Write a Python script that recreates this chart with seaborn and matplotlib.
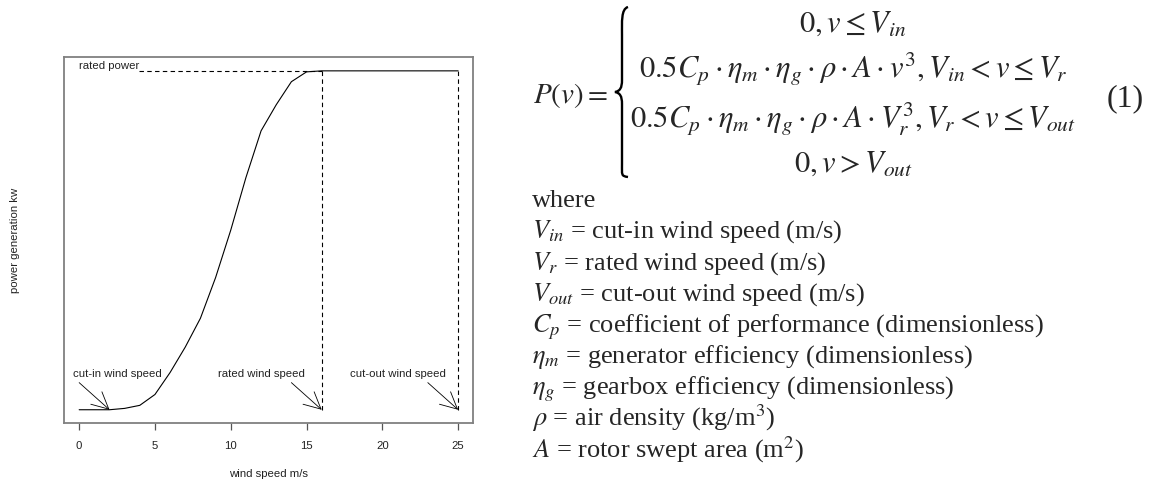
import matplotlib
matplotlib.use("Agg")
from matplotlib import pyplot as plt
from matplotlib.path import Path
from matplotlib.patches import PathPatch
import seaborn as sns

# wind turbine power curve (power as share of rated power)
wind_speed = list(range(0, 26))
power = [0, 0, 0, 0.004, 0.013, 0.045, 0.11, 0.185, 0.27, 0.39, 0.53, 0.685,
         0.823, 0.90, 0.968, 0.997, 1.0, 1.0, 1.0, 1.0, 1.0, 1.0, 1.0, 1.0, 1.0, 1.0]
cut_in, rated_speed, cut_out = 2, 16, 25
rated_power = 1.0
x_ticks = [0, 5, 10, 15, 20, 25]
speed_labels = ["cut-in wind speed", "rated wind speed", "cut-out wind speed"]

eq_lines = [
    r"$0,v \leq V_{in}$",
    r"$0.5C_p \cdot \eta_m \cdot \eta_g \cdot \rho \cdot A \cdot v^3, V_{in} < v \leq V_r$",
    r"$0.5C_p \cdot \eta_m \cdot \eta_g \cdot \rho \cdot A \cdot V_r^3, V_r < v \leq V_{out}$",
    r"$0,v > V_{out}$",
]
where_lines = [
    "where",
    r"$V_{in}$ = cut-in wind speed (m/s)",
    r"$V_r$ = rated wind speed (m/s)",
    r"$V_{out}$ = cut-out wind speed (m/s)",
    r"$C_p$ = coefficient of performance (dimensionless)",
    r"$\eta_m$ = generator efficiency (dimensionless)",
    r"$\eta_g$ = gearbox efficiency (dimensionless)",
    r"$\rho$ = air density (kg/m$^3$)",
    r"$A$ = rotor swept area (m$^2$)",
]

sns.set_style("white")
plt.rcParams["font.family"] = ["Liberation Sans", "DejaVu Sans"]
plt.rcParams["mathtext.fontset"] = "stix"

W, H = 1151, 484
fig = plt.figure(figsize=(W / 100, H / 100), dpi=100)
ax = fig.add_axes([64 / W, 1 - 423.3 / H, 409.3 / W, 366 / H])

sns.lineplot(x=wind_speed, y=power, ax=ax, color="black", linewidth=0.8)

dash = dict(color="black", linewidth=0.8, linestyle=(0, (4, 3)))
ax.plot([3.95, rated_speed], [rated_power, rated_power], **dash)
ax.plot([rated_speed, rated_speed], [0, rated_power], **dash)
ax.plot([cut_out, cut_out], [0, rated_power], **dash)
ax.text(1.95, rated_power + 0.014, "rated power", ha="center", va="center",
        fontsize=8.2, color="#222222")

arrow = dict(arrowstyle="->,head_length=1.2,head_width=0.6", color="black",
             linewidth=0.6, shrinkA=0, shrinkB=0)
for tip, lab, tx in zip([cut_in, rated_speed, cut_out], speed_labels, [2.5, 12, 21]):
    ax.annotate("", xy=(tip, 0), xytext=(tip - 2, 0.08), arrowprops=arrow)
    ax.text(tx, 0.106, lab, ha="center", va="center", fontsize=8.2, color="#222222")

ax.set_xlim(-1, 26)
ax.set_ylim(-0.04, 1.04)
ax.set_xticks(x_ticks)
ax.set_yticks([])
ax.tick_params(axis="x", bottom=True, length=5, width=0.9, color="#555555",
               pad=8, labelsize=8.2, labelcolor="#222222")
for sp in ax.spines.values():
    sp.set_color("#808080")
    sp.set_linewidth(1.3)
ax.set_xlabel("wind speed m/s", fontsize=8.2, color="#222222")
ax.set_ylabel("power generation kw", fontsize=8.2, color="#222222")
ax.xaxis.set_label_coords(0.5, -0.125)
ax.yaxis.set_label_coords(-0.108, 0.5)


def px(x, y):
    return x / W, 1 - y / H


serif = ["Liberation Serif", "DejaVu Serif"]
# piecewise equation
fig.text(*px(533, 103), r"$P(v) =$", fontsize=21, ha="left", va="baseline", family=serif)
for line, base in zip(eq_lines, [32, 78, 128, 172]):
    fig.text(*px(853, base), line, fontsize=22, ha="center", va="baseline", family=serif)
fig.text(*px(1125, 106), "(1)", fontsize=23, ha="center", va="baseline", family=serif)

bx = -4  # brace shift in pixels
brace_pts = [(632, 7), (625, 9), (626, 22), (626, 35),
             (626, 78), (626, 78), (626, 80),
             (626, 88), (624, 91), (619, 92),
             (624, 93), (626, 96), (626, 104),
             (626, 150), (626, 150), (626, 164),
             (626, 175), (625, 176), (632, 177)]
codes = [Path.MOVETO] + [Path.CURVE4] * 18
brace = Path([px(x + bx, y) for x, y in brace_pts], codes)
fig.patches.append(PathPatch(brace, transform=fig.transFigure, fill=False,
                             edgecolor="black", linewidth=1.7))

for i, line in enumerate(where_lines):
    fig.text(*px(532, 206.7 + 31.35 * i), line, fontsize=19, ha="left",
             va="baseline", family=serif)

fig.savefig("out.png", dpi=100, facecolor="white")
